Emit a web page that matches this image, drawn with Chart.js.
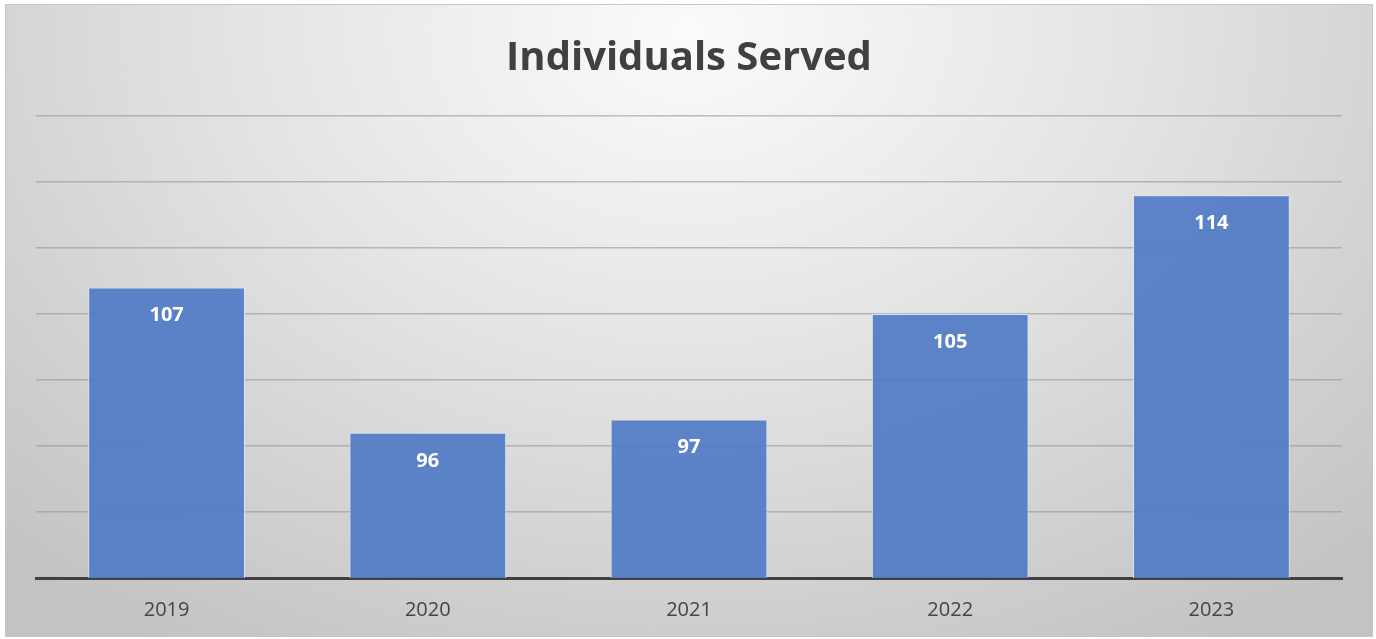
<!DOCTYPE html>
<html>
<head>
<meta charset="utf-8">
<script src="https://cdn.jsdelivr.net/npm/chart.js@4"></script>
<style>
  html, body { margin: 0; padding: 0; background: #fff; }
  #frame {
    position: absolute; left: 5px; top: 4px;
    width: 1366px; height: 631px;
    border: 1px solid #c6c6c6;
    background: radial-gradient(ellipse 72% 115% at 50% 4%, #fbfbfb 0%, #e4e4e4 45%, #cfcfcf 80%, #c3c3c3 100%);
  }
  #wrap { position: absolute; left: 0; top: 0; width: 1366px; height: 631px; }
</style>
</head>
<body>
<div id="frame"><div id="wrap"><canvas id="barChart"></canvas></div></div>
<script>
const years = ['2019', '2020', '2021', '2022', '2023'];
const served = [107, 96, 97, 105, 114];

// white value labels just inside the top of each bar
const valueLabels = {
  id: 'valueLabels',
  afterDatasetsDraw(chart) {
    const { ctx } = chart;
    const meta = chart.getDatasetMeta(0);
    ctx.save();
    ctx.fillStyle = '#ffffff';
    ctx.font = 'bold 20px "Open Sans"';
    ctx.textAlign = 'center';
    ctx.textBaseline = 'middle';
    meta.data.forEach((bar, i) => {
      ctx.fillText(String(served[i]), bar.x, bar.y + 28);
    });
    ctx.restore();
  }
};

const ctx = document.getElementById('barChart');

new Chart(ctx, {
  type: 'bar',
  data: {
    labels: years,
    datasets: [{
      label: 'Individuals Served',
      data: served,
      backgroundColor: 'rgba(80, 122, 198, 0.92)',
      borderColor: 'rgba(220, 230, 250, 0.9)',
      borderWidth: 1,
      barPercentage: 0.6,
      categoryPercentage: 1
    }]
  },
  options: {
    responsive: true,
    maintainAspectRatio: false,
    animation: false,
    layout: { padding: { left: 30, right: 30, top: 0, bottom: 2 } },
    plugins: {
      legend: { display: false },
      tooltip: { enabled: false },
      title: {
        display: true,
        text: 'Individuals Served',
        color: '#404040',
        font: { family: '"Open Sans"', size: 40, weight: 'bold' },
        padding: { top: 30, bottom: 33 }
      }
    },
    scales: {
      x: {
        grid: { display: false },
        border: { color: '#404040', width: 3 },
        ticks: {
          color: '#454545',
          font: { family: '"Open Sans"', size: 20 },
          padding: 12
        }
      },
      y: {
        min: 85,
        max: 120,
        ticks: { display: false, stepSize: 5 },
        border: { display: false },
        grid: { color: 'rgba(150, 150, 150, 0.6)', lineWidth: 1.5, drawTicks: false }
      }
    }
  },
  plugins: [valueLabels]
});
</script>
</body>
</html>
